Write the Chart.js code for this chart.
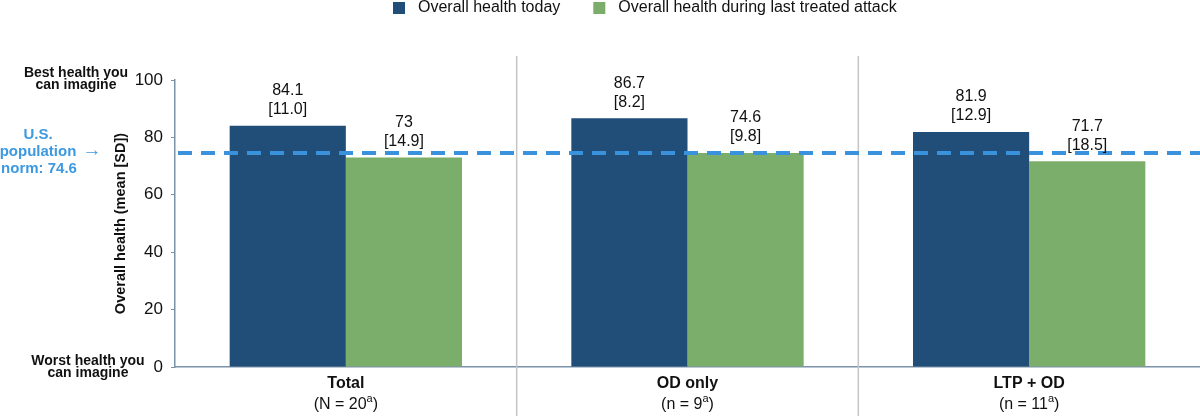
<!DOCTYPE html>
<html>
<head>
<meta charset="utf-8">
<script src="https://cdn.jsdelivr.net/npm/chart.js@4.4.1/dist/chart.umd.min.js"></script>
<style>
  html, body { margin: 0; padding: 0; background: #fff; }
  #wrap { width: 1200px; height: 416px; position: relative; }
</style>
</head>
<body>
<div id="wrap"><canvas id="chart"></canvas></div>
<script>
const categories = ['Total', 'OD only', 'LTP + OD'];
const sampleSizes = ['N = 20', 'n = 9', 'n = 11'];
const seriesNames = ['Overall health today', 'Overall health during last treated attack'];
const todayMeans = [84.1, 86.7, 81.9];
const todaySD = ['11.0', '8.2', '12.9'];
const attackMeans = [73, 74.6, 71.7];
const attackSD = ['14.9', '9.8', '18.5'];
const populationNorm = 74.6;

const FONT = '"Liberation Sans", Arial, sans-serif';
const BLUE = '#214e78';
const GREEN = '#7bae6b';
const AXIS = '#7a92aa';
const NORM = '#3a92dc';

const extras = {
  id: 'extras',
  beforeDatasetsDraw(chart) {
    const ctx = chart.ctx;
    const x = chart.scales.x;
    ctx.save();
    ctx.strokeStyle = '#c4c4c4';
    ctx.lineWidth = 1.5;
    for (let i = 1; i < categories.length; i++) {
      const px = (x.getPixelForValue(i - 1) + x.getPixelForValue(i)) / 2;
      ctx.beginPath();
      ctx.moveTo(px, 56);
      ctx.lineTo(px, chart.height);
      ctx.stroke();
    }
    ctx.restore();
  },
  afterDatasetsDraw(chart) {
    const ctx = chart.ctx;
    const y = chart.scales.y;
    const area = chart.chartArea;
    ctx.save();
    // population norm line
    const ny = y.getPixelForValue(populationNorm);
    ctx.strokeStyle = NORM;
    ctx.lineWidth = 4;
    ctx.setLineDash([14, 9]);
    ctx.beginPath();
    ctx.moveTo(area.left + 3, ny);
    ctx.lineTo(chart.width, ny);
    ctx.stroke();
    ctx.setLineDash([]);

    // value labels
    ctx.fillStyle = '#111';
    ctx.font = '16px ' + FONT;
    ctx.textAlign = 'center';
    ctx.textBaseline = 'middle';
    const sds = [todaySD, attackSD];
    const means = [todayMeans, attackMeans];
    chart.data.datasets.forEach((ds, di) => {
      chart.getDatasetMeta(di).data.forEach((bar, i) => {
        ctx.fillText(String(means[di][i]), bar.x, bar.y - 35);
        ctx.fillText('[' + sds[di][i] + ']', bar.x, bar.y - 16);
      });
    });
    ctx.restore();
  },
  afterDraw(chart) {
    const ctx = chart.ctx;
    const x = chart.scales.x;
    ctx.save();
    ctx.textBaseline = 'middle';

    // category labels
    categories.forEach((c, i) => {
      const cx = x.getPixelForValue(i);
      ctx.fillStyle = '#111';
      ctx.textAlign = 'center';
      ctx.font = 'bold 16px ' + FONT;
      ctx.fillText(c, cx, 384);
      const main = '(' + sampleSizes[i];
      ctx.font = '16px ' + FONT;
      const wMain = ctx.measureText(main).width;
      const wClose = ctx.measureText(')').width;
      ctx.font = '11px ' + FONT;
      const wSup = ctx.measureText('a').width;
      const total = wMain + wSup + wClose;
      const sx = cx - total / 2;
      ctx.textAlign = 'left';
      ctx.font = '16px ' + FONT;
      ctx.fillText(main, sx, 405);
      ctx.font = '11px ' + FONT;
      ctx.fillText('a', sx + wMain, 399);
      ctx.font = '16px ' + FONT;
      ctx.fillText(')', sx + wMain + wSup, 405);
    });

    // legend
    ctx.font = '16px ' + FONT;
    ctx.textAlign = 'left';
    let lx = 393;
    [BLUE, GREEN].forEach((col, i) => {
      ctx.fillStyle = col;
      ctx.fillRect(lx, 2, 12, 12);
      ctx.fillStyle = '#111';
      ctx.fillText(seriesNames[i], lx + 25, 8);
      lx += 25 + ctx.measureText(seriesNames[i]).width + 33;
    });

    // left annotations
    ctx.textAlign = 'center';
    ctx.fillStyle = '#111';
    ctx.font = 'bold 14px ' + FONT;
    ctx.fillText('Best health you', 76, 73);
    ctx.fillText('can imagine', 76, 85);
    ctx.fillText('Worst health you', 88, 361);
    ctx.fillText('can imagine', 88, 373);

    ctx.fillStyle = '#3e9ae0';
    ctx.font = 'bold 15px ' + FONT;
    ctx.fillText('U.S.', 38, 135);
    ctx.fillText('population', 38, 152);
    ctx.fillText('norm: ' + populationNorm, 39, 169);
    ctx.font = '19px ' + FONT;
    ctx.fillText('\u2192', 92, 151);
    ctx.restore();
  }
};

new Chart(document.getElementById('chart'), {
  type: 'bar',
  data: {
    labels: categories,
    datasets: [
      { label: seriesNames[0], data: todayMeans, backgroundColor: BLUE },
      { label: seriesNames[1], data: attackMeans, backgroundColor: GREEN }
    ]
  },
  options: {
    responsive: true,
    maintainAspectRatio: false,
    animation: false,
    categoryPercentage: 0.68,
    barPercentage: 1.0,
    layout: { padding: { left: 95, top: 80, right: 0, bottom: 49 } },
    plugins: { legend: { display: false }, tooltip: { enabled: false } },
    scales: {
      x: {
        ticks: { display: false },
        grid: { display: false },
        border: { color: AXIS, width: 1.5 },
        afterFit(s) { s.height = 0; }
      },
      y: {
        min: 0,
        max: 100,
        ticks: { stepSize: 20, padding: 8, color: '#111', font: { family: FONT, size: 17 } },
        grid: { drawOnChartArea: false, drawTicks: true, tickLength: 4, color: AXIS },
        border: { color: AXIS, width: 1.5 },
        title: {
          display: true,
          text: 'Overall health (mean [SD])',
          color: '#111',
          font: { family: FONT, size: 14.5, weight: 'bold' },
          padding: { top: 17, bottom: 0 }
        },
        afterFit(s) { s.width = 80; }
      }
    }
  },
  plugins: [extras]
});
</script>
</body>
</html>
